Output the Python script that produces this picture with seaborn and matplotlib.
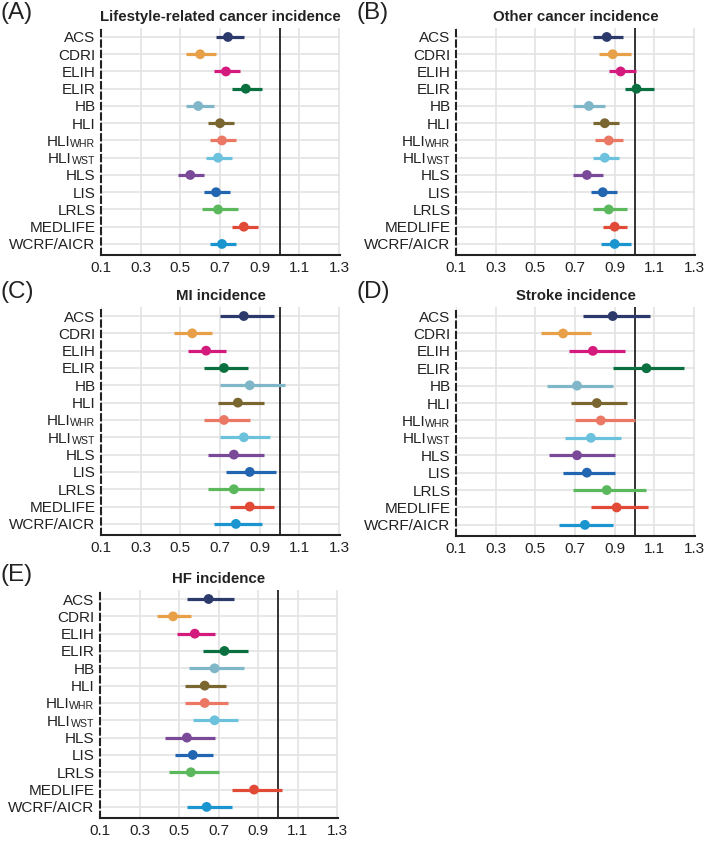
import matplotlib
matplotlib.use("Agg")
import matplotlib.pyplot as plt
import seaborn as sns
import numpy as np
import pandas as pd

sns.set_style("whitegrid")
plt.rcParams['font.family'] = ['Liberation Sans', 'DejaVu Sans']

# data ########################################################################
scores = ["ACS", "CDRI", "ELIH", "ELIR", "HB", "HLI", "HLI_WHR",
          "HLI_WST", "HLS", "LIS", "LRLS", "MEDLIFE", "WCRF/AICR"]

colors = ["#2b3a6b", "#e8a048", "#d41a7c", "#0b7040", "#80b7c8", "#7a6630",
          "#ea7864", "#6cc2dc", "#7a4a98", "#2265b0", "#5cb85c", "#e04a36",
          "#1a95cf"]

panels = ["(A)", "(B)", "(C)", "(D)", "(E)"]
titles = ["Lifestyle-related cancer incidence", "Other cancer incidence",
          "MI incidence", "Stroke incidence", "HF incidence"]

lifestyle_hr = [0.74, 0.60, 0.73, 0.83, 0.59, 0.70, 0.71, 0.69, 0.55, 0.68, 0.69, 0.82, 0.71]
lifestyle_lo = [0.68, 0.53, 0.67, 0.76, 0.53, 0.64, 0.65, 0.63, 0.49, 0.62, 0.61, 0.76, 0.65]
lifestyle_hi = [0.82, 0.68, 0.80, 0.91, 0.67, 0.77, 0.78, 0.76, 0.62, 0.75, 0.79, 0.89, 0.78]

other_hr = [0.86, 0.89, 0.93, 1.01, 0.77, 0.85, 0.87, 0.85, 0.76, 0.84, 0.87, 0.90, 0.90]
other_lo = [0.79, 0.82, 0.87, 0.95, 0.69, 0.79, 0.80, 0.79, 0.69, 0.78, 0.79, 0.84, 0.83]
other_hi = [0.94, 0.98, 1.01, 1.10, 0.85, 0.92, 0.94, 0.92, 0.84, 0.91, 0.96, 0.96, 0.98]

mi_hr = [0.82, 0.56, 0.63, 0.72, 0.85, 0.79, 0.72, 0.82, 0.77, 0.85, 0.77, 0.85, 0.78]
mi_lo = [0.70, 0.47, 0.54, 0.62, 0.70, 0.69, 0.62, 0.70, 0.64, 0.73, 0.64, 0.75, 0.67]
mi_hi = [0.97, 0.66, 0.73, 0.84, 1.03, 0.92, 0.85, 0.95, 0.92, 0.98, 0.92, 0.97, 0.91]

stroke_hr = [0.89, 0.64, 0.79, 1.06, 0.71, 0.81, 0.83, 0.78, 0.71, 0.76, 0.86, 0.91, 0.75]
stroke_lo = [0.74, 0.53, 0.67, 0.89, 0.56, 0.68, 0.70, 0.65, 0.57, 0.64, 0.69, 0.78, 0.62]
stroke_hi = [1.08, 0.78, 0.95, 1.25, 0.89, 0.96, 1.00, 0.93, 0.90, 0.90, 1.06, 1.07, 0.89]

hf_hr = [0.65, 0.47, 0.58, 0.73, 0.68, 0.63, 0.63, 0.68, 0.54, 0.57, 0.56, 0.88, 0.64]
hf_lo = [0.54, 0.39, 0.49, 0.62, 0.55, 0.53, 0.53, 0.57, 0.43, 0.48, 0.45, 0.77, 0.54]
hf_hi = [0.78, 0.56, 0.68, 0.85, 0.83, 0.74, 0.75, 0.80, 0.68, 0.67, 0.70, 1.02, 0.77]

hr_sets = [lifestyle_hr, other_hr, mi_hr, stroke_hr, hf_hr]
lo_sets = [lifestyle_lo, other_lo, mi_lo, stroke_lo, hf_lo]
hi_sets = [lifestyle_hi, other_hi, mi_hi, stroke_hi, hf_hi]

xticks = [0.1, 0.3, 0.5, 0.7, 0.9, 1.1, 1.3]

# layout (pixels of a 709 x 842 figure) ######################################
W, H = 709, 842
boxes = [(101, 28, 340, 255), (456, 28, 695, 255),
         (101, 307, 340, 535), (456, 307, 695, 536),
         (100, 590, 338, 818)]

fig = plt.figure(figsize=(W / 100, H / 100), dpi=100)
renderer = fig.canvas.get_renderer()
TXT = "#222222"


def subscript_label(ax, pos, base, sub):
    # "HLI" with a small "WHR"/"WST" after it, right-aligned like a tick label
    t_sub = ax.annotate(sub, xy=(0, pos), xycoords=("axes fraction", "data"),
                        xytext=(-4, -4.6), textcoords="offset points",
                        ha="right", va="baseline", fontsize=7.6, color=TXT)
    w_pt = t_sub.get_window_extent(renderer).width * 72 / fig.dpi
    ax.annotate(base, xy=(0, pos), xycoords=("axes fraction", "data"),
                xytext=(-4 - w_pt, -3.9), textcoords="offset points",
                ha="right", va="baseline", fontsize=11, color=TXT)


def forest(ax, hr, lo, hi, title):
    df = pd.DataFrame({"score": scores, "hr": hr, "lo": lo, "hi": hi,
                       "pos": np.arange(len(scores))})
    ax.axvline(1.0, color=TXT, lw=1.3, zorder=2)
    for i, row in df.iterrows():
        ax.hlines(row.pos, row.lo, row.hi, color=colors[i], lw=2.3, zorder=3)
    sns.scatterplot(data=df, x="hr", y="pos", hue="score", palette=colors,
                    s=50, edgecolor="none", legend=False, ax=ax, zorder=4)
    ax.set_xlim(0.1, 1.305)
    ax.set_ylim(len(scores) - 0.36, -0.52)
    ax.set_xticks(xticks)
    ax.set_xticklabels([f"{t:.1f}" for t in xticks])
    ax.set_yticks(df.pos)
    ax.set_yticklabels([s if "_" not in s else "" for s in scores])
    for p, s in zip(df.pos, scores):
        if "_" in s:
            base, sub = s.split("_")
            subscript_label(ax, p, base, sub)
    ax.set_xlabel("")
    ax.set_ylabel("")
    ax.tick_params(axis="both", length=0, labelsize=11, colors=TXT)
    ax.tick_params(axis="y", pad=4)
    ax.tick_params(axis="x", pad=4)
    ax.grid(True, color="#e3e3e3", lw=1.2)
    ax.set_axisbelow(True)
    for s in ["top", "right"]:
        ax.spines[s].set_visible(False)
    ax.spines["bottom"].set_color(TXT)
    ax.spines["bottom"].set_linewidth(1.5)
    ax.spines["left"].set_color(TXT)
    ax.spines["left"].set_linewidth(1.5)
    ax.spines["left"].set_linestyle((0, (3, 2)))
    ax.set_title(title, fontsize=10.8, fontweight="bold", pad=5, color=TXT)


for k in range(5):
    x0, y0, x1, y1 = boxes[k]
    ax = fig.add_axes([x0 / W, 1 - y1 / H, (x1 - x0) / W, (y1 - y0) / H])
    forest(ax, hr_sets[k], lo_sets[k], hi_sets[k], titles[k])
    lx = 1 if x0 < 200 else 356
    fig.text(lx / W, 1 - (y0 - 26) / H, panels[k], fontsize=17.5,
             ha="left", va="top", color=TXT)

fig.savefig("out.png", dpi=100)
